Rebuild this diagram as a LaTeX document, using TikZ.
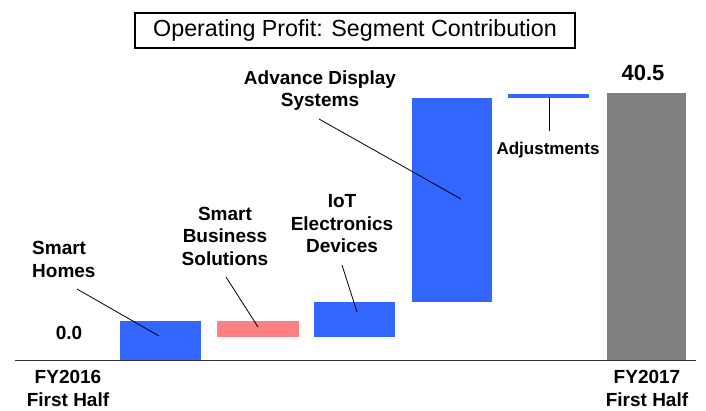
\documentclass[tikz,border=0pt]{standalone}
\usepackage{fontspec}
\setmainfont{Liberation Sans}
\definecolor{segblue}{RGB}{51,102,255}
\definecolor{segpink}{RGB}{255,128,128}
\definecolor{totgray}{RGB}{128,128,128}
\begin{document}
\begin{tikzpicture}[x=1pt,y=-1pt,
  lbl/.style={font=\fontsize{19}{22.5}\selectfont\bfseries, inner sep=0pt, align=center},
  leader/.style={draw=black, line width=0.8pt},
  barblue/.style={fill=segblue, draw=none},
  barpink/.style={fill=segpink, draw=none},
  bargray/.style={fill=totgray, draw=none}]
\useasboundingbox (0,0) rectangle (706,410);

% title
\node[draw=black, line width=1.2pt, minimum width=440pt, minimum height=35pt, inner sep=0pt,
      font=\fontsize{23.3}{27}\selectfont] (title) at (355,30.5) {Operating Profit: Segment Contribution};

% bars of the waterfall
\path[barblue] (120,321) rectangle (201,360);
\path[barpink] (217,321) rectangle (299,337);
\path[barblue] (314,302) rectangle (395,337);
\path[barblue] (412,98) rectangle (492,302);
\path[barblue] (508,94) rectangle (589,98);
\path[bargray] (607,93) rectangle (686,360);

% baseline axis
\draw[line width=1.8pt, black!80] (15,360.5) -- (696,360.5);

% labels
\node[lbl, align=left, anchor=west] (sh) at (32,259.5) {Smart\\Homes};
\node[lbl] (sbs) at (225,236) {Smart\\Business\\Solutions};
\node[lbl] (iot) at (342,224) {IoT\\Electronics\\Devices};
\node[lbl] (ads) at (320,90.5) {Advance Display\\Systems};
\node[lbl, font=\fontsize{17}{20}\selectfont\bfseries] (adj) at (548,150) {Adjustments};
\node[lbl] (v0) at (69,332.5) {0.0};
\node[lbl, font=\fontsize{22}{26}\selectfont\bfseries] (v1) at (643,73) {40.5};
\node[lbl] (fy16) at (68,388.5) {FY2016\\First Half};
\node[lbl] (fy17) at (647,388.5) {FY2017\\First Half};

% leader lines
\coordinate (shA) at (77,289);   \coordinate (shB) at (159,336);
\coordinate (sbsA) at (226,277); \coordinate (sbsB) at (258,327);
\coordinate (iotA) at (342,265); \coordinate (iotB) at (357,312);
\coordinate (adsA) at (319,119); \coordinate (adsB) at (461,199);
\coordinate (adjA) at (549,98);  \coordinate (adjB) at (549,131);
\draw[leader] (shA) -- (shB);
\draw[leader] (sbsA) -- (sbsB);
\draw[leader] (iotA) -- (iotB);
\draw[leader] (adsA) -- (adsB);
\draw[leader] (adjA) -- (adjB);
\end{tikzpicture}
\end{document}
